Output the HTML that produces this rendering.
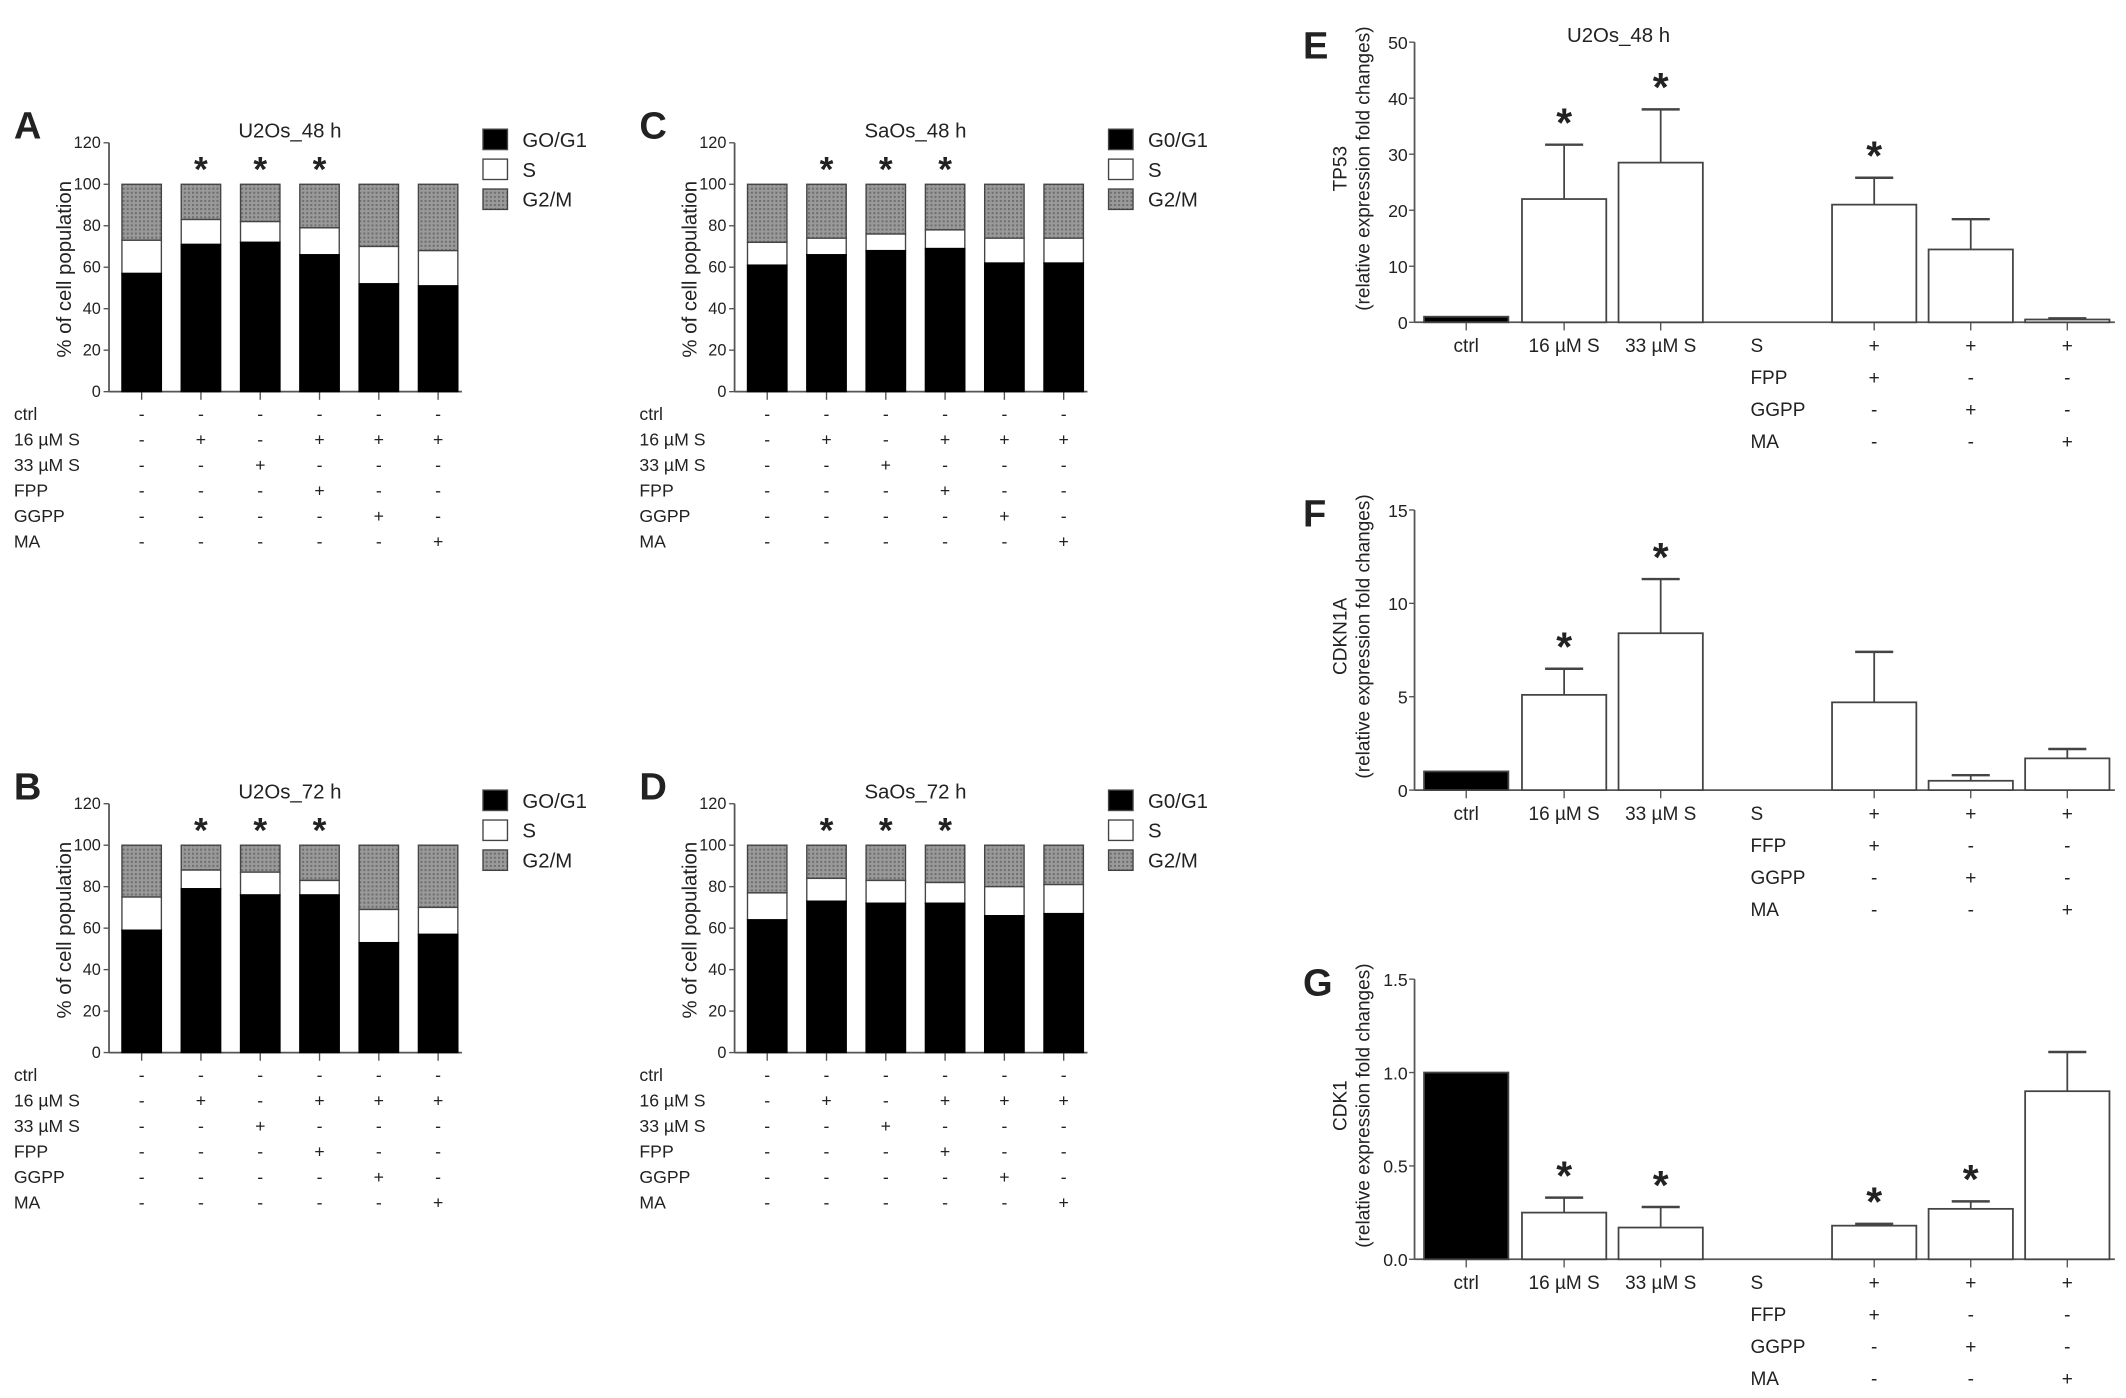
<!DOCTYPE html>
<html><head><meta charset="utf-8">
<style>
html,body{margin:0;padding:0;background:#fff;}
svg{display:block;font-family:"Liberation Sans",Arial,sans-serif;}
</style></head>
<body>
<svg id="fig" width="2126" height="1398" viewBox="0 0 1563 1028" xmlns="http://www.w3.org/2000/svg">
<defs>
<pattern id="hatch" width="3" height="3" patternUnits="userSpaceOnUse">
<rect width="3" height="3" fill="#9a9a9a"/><rect width="1.5" height="1.5" fill="#6e6e6e"/>
</pattern>
</defs>
</svg>
<script>
// ---- stacked bar data (G0/G1 value, S-phase top value) ----
const stackCats = ["c1","c2","c3","c4","c5","c6"];
const A_g1 = [57,71,72,66,52,51];
const A_s  = [73,83,82,79,70,68];
const C_g1 = [61,66,68,69,62,62];
const C_s  = [72,74,76,78,74,74];
const B_g1 = [59,79,76,76,53,57];
const B_s  = [75,88,87,83,69,70];
const D_g1 = [64,73,72,72,66,67];
const D_s  = [77,84,83,82,80,81];
const stackStars = [false,true,true,true,false,false];
const stackTicks = [0,20,40,60,80,100,120];
const rowLabels = ["ctrl","16 µM S","33 µM S","FPP","GGPP","MA"];
const rowSyms = [
 ["-","-","-","-","-","-"],
 ["-","+","-","+","+","+"],
 ["-","-","+","-","-","-"],
 ["-","-","-","+","-","-"],
 ["-","-","-","-","+","-"],
 ["-","-","-","-","-","+"]];
// ---- expression bar data ----
const exprCats = ["ctrl","16 µM S","33 µM S","S+FPP","S+GGPP","S+MA"];
const E_vals = [1,22,28.5,21,13,0.5];
const E_err  = [0,31.7,38,25.8,18.4,0.7];
const E_star = [false,true,true,true,false,false];
const E_ticks = [0,10,20,30,40,50];
const F_vals = [1,5.1,8.4,4.7,0.5,1.7];
const F_err  = [0,6.5,11.3,7.4,0.8,2.2];
const F_star = [false,true,true,false,false,false];
const F_ticks = [0,5,10,15];
const G_vals = [1.0,0.25,0.17,0.18,0.27,0.9];
const G_err  = [0,0.33,0.28,0.19,0.31,1.11];
const G_star = [false,true,true,true,true,false];
const G_ticks = ["0.0","0.5","1.0","1.5"];

const svg=document.getElementById('fig');
const NS="http://www.w3.org/2000/svg";
function el(tag,attrs,parent,text){const e=document.createElementNS(NS,tag);for(const k in attrs)e.setAttribute(k,attrs[k]);if(text!==undefined)e.textContent=text;(parent||svg).appendChild(e);return e;}
function txt(x,y,s,size,parent,anchor,weight){return el('text',{x:x,y:y,'font-size':size,'text-anchor':anchor||'start','font-weight':weight||'normal',fill:'#222'},parent,s);}

function stacked(name,letter,title,g1,s,ax,y0,legendLabels){
  const g=el('g',{});
  
  
  const ymax=120, h=183; const ys=v=>y0-v/ymax*h;
  const x0=ax+24, step=43.6, bw=29;
  const xc=i=>x0+i*step;
  const L=txt(ax-70,y0-186,letter,28,g,'start','bold');
  
  const T=txt(xc(2.5),y0-187,title,15,g,'middle');
  
  const yt=txt(0,0,"% of cell population",15,g,'middle');
  yt.setAttribute('transform',`translate(${ax-28},${y0-90}) rotate(-90)`);
  
  el('line',{x1:ax,y1:ys(120),x2:ax,y2:y0,stroke:'#555','stroke-width':1.3},g);
  el('line',{x1:ax,y1:y0,x2:xc(5)+bw/2+3,y2:y0,stroke:'#555','stroke-width':1.3},g);
  stackTicks.forEach(t=>{el('line',{x1:ax-4,y1:ys(t),x2:ax,y2:ys(t),stroke:'#555'},g);
    const tl=txt(ax-6,ys(t)+4,String(t),12,g,'end');
    });
  stackCats.forEach((c,i)=>{
    const x=xc(i)-bw/2;
    el('line',{x1:xc(i),y1:y0,x2:xc(i),y2:y0+6,stroke:'#555'},g);
    const r1=el('rect',{x:x,y:ys(100),width:bw,height:ys(s[i])-ys(100),fill:'url(#hatch)',stroke:'#444'},g);
    
    const r2=el('rect',{x:x,y:ys(s[i]),width:bw,height:ys(g1[i])-ys(s[i]),fill:'#fff',stroke:'#444'},g);
    
    const r3=el('rect',{x:x,y:ys(g1[i]),width:bw,height:y0-ys(g1[i]),fill:'#000',stroke:'#000'},g);
    
    if(stackStars[i]){const st=txt(xc(i),ys(100)-2,"*",26,g,'middle','bold');
      }
  });
  rowLabels.forEach((lab,r)=>{
    const yy=y0+21+r*18.7;
    const rl=txt(ax-70,yy,lab,13,g);
    
    rowSyms[r].forEach((sym,i)=>{const sy=txt(xc(i),yy,sym,13,g,'middle');
      });
  });
  const lx=ax+275, fills=['#000','#fff','url(#hatch)'];
  legendLabels.forEach((lab,k)=>{
    const ly=y0-193+k*22;
    const sw=el('rect',{x:lx,y:ly,width:18,height:15,fill:fills[k],stroke:'#444'},g);
    
    const lt=txt(lx+29,ly+13,lab,15,g);
    
  });
}
stacked('panel-a','A','U2Os_48 h',A_g1,A_s,80,288,['GO/G1','S','G2/M']);
stacked('panel-c','C','SaOs_48 h',C_g1,C_s,540,288,['G0/G1','S','G2/M']);
stacked('panel-b','B','U2Os_72 h',B_g1,B_s,80,774,['GO/G1','S','G2/M']);
stacked('panel-d','D','SaOs_72 h',D_g1,D_s,540,774,['G0/G1','S','G2/M']);

function expr(name,letter,gene,vals,err,stars,ticks,tmax,ytop,y0,secLabel,title){
  const g=el('g',{});
  
  
  const ax=1040, ys=v=>y0-v/tmax*(y0-ytop);
  const xs=[1078,1150,1221,1378,1449,1520], bw=62;
  const L=txt(958,ytop+12,letter,28,g,'start','bold');
  
  if(title){const T=txt(1190,ytop,title,15,g,'middle');}
  const cy=(ytop+y0)/2-10;
  const y1=txt(0,0,gene,14,g,'middle');y1.setAttribute('transform',`translate(990,${cy}) rotate(-90)`);
  
  const y2=txt(0,0,"(relative expression fold changes)",14,g,'middle');y2.setAttribute('transform',`translate(1007,${cy}) rotate(-90)`);
  
  el('line',{x1:ax,y1:ytop,x2:ax,y2:y0,stroke:'#555','stroke-width':1.3},g);
  el('line',{x1:ax,y1:y0,x2:1555,y2:y0,stroke:'#555','stroke-width':1.3},g);
  ticks.forEach(t=>{const v=parseFloat(t);el('line',{x1:ax-4,y1:ys(v),x2:ax,y2:ys(v),stroke:'#555'},g);
    const tl=txt(ax-5,ys(v)+5,String(t),13,g,'end');});
  vals.forEach((v,i)=>{
    const x=xs[i];
    el('line',{x1:x,y1:y0,x2:x,y2:y0+6,stroke:'#555'},g);
    if(err[i]>v){el('line',{x1:x,y1:ys(v),x2:x,y2:ys(err[i]),stroke:'#444','stroke-width':1.3},g);
      el('line',{x1:x-14,y1:ys(err[i]),x2:x+14,y2:ys(err[i]),stroke:'#444','stroke-width':1.8},g);}
    const b=el('rect',{x:x-bw/2,y:ys(v),width:bw,height:y0-ys(v),fill:i===0?'#000':'#fff',stroke:'#444','stroke-width':1.3},g);
    
    if(stars[i]){const st=txt(x,ys(Math.max(err[i],v))-6,"*",30,g,'middle','bold');
      }
  });
  const r0=y0+22, dr=23.5;
  ["ctrl","16 µM S","33 µM S"].forEach((s,i)=>{const t=txt(xs[i],r0,s,14,g,'middle');});
  const rl=["S",secLabel,"GGPP","MA"];
  const sy=[["+","+","+"],["+","-","-"],["-","+","-"],["-","-","+"]];
  rl.forEach((s,r)=>{const t=txt(1287,r0+r*dr,s,14,g);
    sy[r].forEach((m,k)=>{const q=txt(xs[k+3],r0+r*dr,m,14,g,'middle');});});
}
expr('panel-e','E','TP53',E_vals,E_err,E_star,E_ticks,50,31,237,'FPP','U2Os_48 h');
expr('panel-f','F','CDKN1A',F_vals,F_err,F_star,F_ticks,15,375,581,'FFP','');
expr('panel-g','G','CDK1',G_vals,G_err,G_star,G_ticks,1.5,720,926,'FFP','');
</script>
</body></html>
